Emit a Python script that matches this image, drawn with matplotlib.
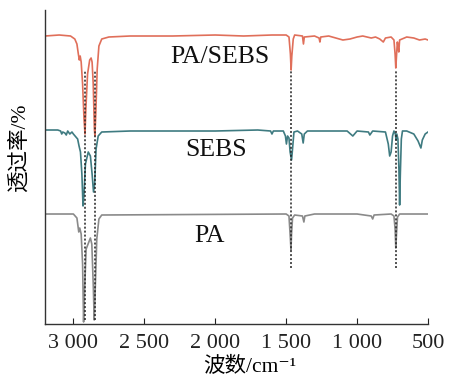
import matplotlib
matplotlib.use("Agg")
import matplotlib.pyplot as plt

fams = ['Liberation Serif', 'Noto Sans CJK SC', 'DejaVu Sans']
plt.rcParams['font.family'] = fams

# PA/SEBS spectrum (wavenumber, transmittance in arbitrary units)
wn_ps = [3200, 3100, 3020, 2990, 2975, 2965, 2958, 2952, 2945, 2935, 2925, 2918, 2912, 2900,
         2885, 2875, 2868, 2860, 2852, 2848, 2842, 2832, 2820, 2800, 2750, 2600, 2300, 2000,
         1800, 1600, 1500, 1480, 1470, 1465, 1460, 1450, 1440, 1385, 1378, 1372, 1300, 1268,
         1262, 1256, 1200, 1150, 1100, 1050, 1000, 960, 900, 870, 840, 815, 800, 760, 740,
         732, 727, 722, 716, 712, 706, 700, 650, 600, 560, 520, 500]
tr_ps = [288, 289, 288, 285, 280, 270, 264, 268, 262, 240, 205, 190, 215, 250,
         264, 266, 262, 240, 195, 188, 210, 255, 278, 285, 287, 288, 288, 289,
         288, 289, 289, 287, 270, 254, 268, 285, 289, 288, 280, 287, 288, 286,
         282, 287, 288, 286, 284, 285, 287, 288, 286, 287, 285, 282, 286, 287, 284,
         270, 256, 268, 282, 278, 272, 284, 287, 286, 284, 285, 284]

# SEBS spectrum
wn_sebs = [3200, 3110, 3090, 3082, 3075, 3060, 3050, 3040, 3025, 3010, 3000, 2970, 2960, 2950,
           2940, 2932, 2925, 2915, 2895, 2880, 2868, 2858, 2850, 2840, 2825, 2800, 2600, 2000,
           1700, 1610, 1600, 1590, 1520, 1505, 1498, 1490, 1480, 1472, 1462, 1455, 1445, 1420,
           1390, 1380, 1372, 1350, 1200, 1070, 1030, 1000, 920, 910, 890, 800, 780, 770, 760,
           750, 740, 730, 725, 720, 712, 705, 700, 695, 688, 680, 650, 600, 570, 550, 540,
           520, 500]
tr_sebs = [194, 194, 193, 190, 192, 191, 189, 193, 190, 192, 190, 185, 178, 172,
           150, 118, 130, 160, 172, 168, 150, 132, 140, 175, 188, 192, 193, 193,
           194, 193, 190, 193, 193, 188, 180, 188, 186, 172, 164, 175, 192, 193,
           190, 181, 190, 193, 193, 193, 188, 193, 192, 189, 193, 192, 180, 168, 172,
           188, 193, 190, 184, 190, 185, 155, 119, 150, 185, 193, 193, 190, 183, 176, 184,
           190, 192]

# PA spectrum
wn_pa = [3200, 3000, 2975, 2962, 2955, 2945, 2935, 2928, 2922, 2910, 2880, 2870, 2860, 2853,
         2847, 2835, 2820, 2800, 1500, 1480, 1470, 1466, 1462, 1455, 1440, 1385, 1375, 1368,
         1300, 1000, 900, 890, 880, 760, 740, 732, 727, 722, 715, 700, 500]
tr_pa = [110, 110, 106, 92, 96, 90, 60, 2, 30, 75, 86, 80, 40, 4,
         30, 85, 105, 109, 110, 108, 85, 74, 90, 106, 109, 108, 102, 108,
         110, 110, 108, 105, 109, 110, 108, 95, 76, 90, 107, 110, 110]

# dotted guide lines
mark_wn = [2920, 2850, 1465, 725]
mark_top = [254, 254, 254, 254]
mark_bot = [4, 4, 56, 56]

names = ['PA/SEBS', 'SEBS', 'PA']
name_x = [1966, 1994, 2037]
name_y = [267, 174, 88]

fig = plt.figure(figsize=(4.63, 3.79), dpi=100)
ax = fig.add_axes([0.0972, 0.1451, 0.8272, 0.8285])

ax.plot(wn_ps, tr_ps, color='#e06f5a', lw=1.2)
ax.plot(wn_sebs, tr_sebs, color='#3f7b81', lw=1.2)
ax.plot(wn_pa, tr_pa, color='#8a8a8a', lw=1.2)

for w, t, b in zip(mark_wn, mark_top, mark_bot):
    ax.plot([w, w], [b, t], color='#222222', lw=1.1, linestyle=(0, (1.3, 1.3)))

for n, x, y in zip(names, name_x, name_y):
    ax.text(x, y, n, ha='center', va='center', fontsize=18.5, color='#111111',
            family=fams)

ax.set_xlim(3200, 500)
ax.set_ylim(0, 314)
ax.set_xticks([3000, 2500, 2000, 1500, 1000, 500])
ax.set_xticklabels(['3 000', '2 500', '2 000', '1 500', '1 000', '500'])
ax.set_yticks([])
ax.tick_params(axis='x', direction='in', length=4, labelsize=16, pad=7, colors='#222222')
for s in ['top', 'right']:
    ax.spines[s].set_visible(False)
for s in ['left', 'bottom']:
    ax.spines[s].set_color('#333333')
    ax.spines[s].set_linewidth(1.0)

ax.set_ylabel('透过率/%', fontsize=15.5, family=fams)
ax.yaxis.set_label_coords(-0.04, 0.56)
ax.set_xlabel('波数/cm⁻¹', fontsize=15.5, family=fams)
ax.xaxis.set_label_coords(0.535, -0.105)

fig.savefig('out.png', dpi=100)
